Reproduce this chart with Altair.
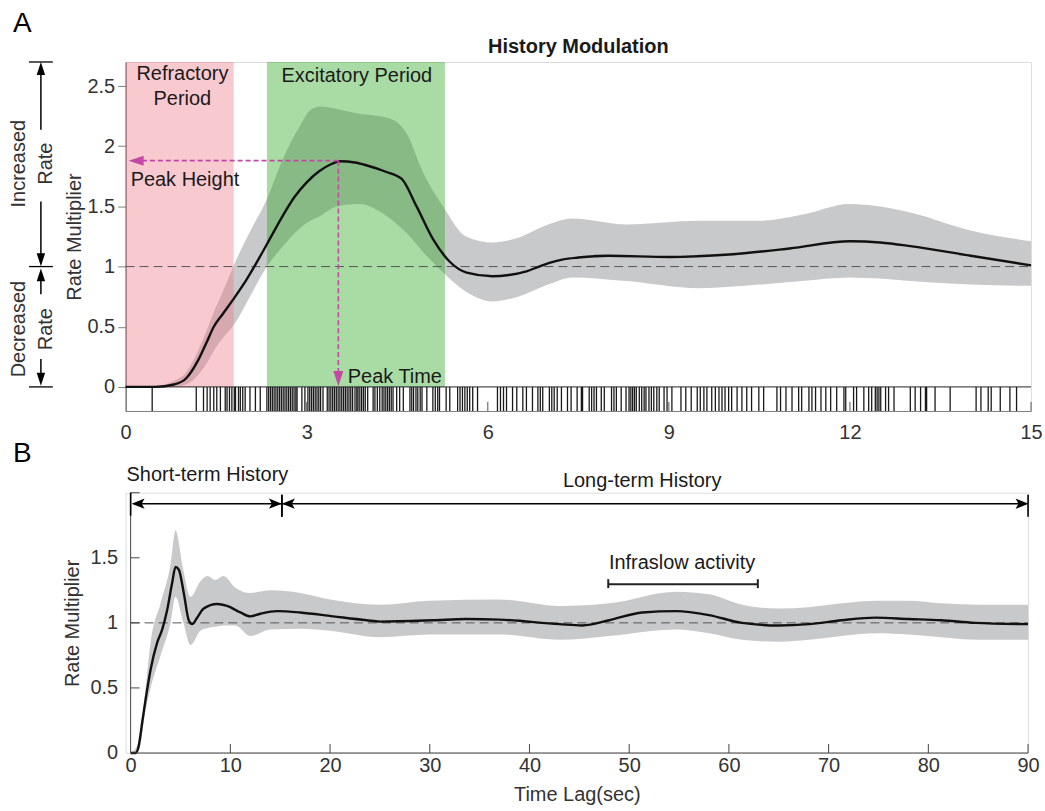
import altair as alt
import pandas as pd

# ---------------- data ----------------
spike_times = [
    0.44, 1.17, 1.29, 1.35, 1.40, 1.46, 1.51, 1.57, 1.65, 1.68, 1.72, 1.76, 1.80, 1.82, 1.87, 1.90,
    1.94, 1.98, 2.06, 2.15, 2.23, 2.34, 2.37, 2.40, 2.43, 2.46, 2.49, 2.52, 2.55, 2.58, 2.61, 2.64,
    2.67, 2.70, 2.73, 2.76, 2.79, 2.82, 2.84, 2.92, 2.97, 3.02, 3.05, 3.08, 3.11, 3.14, 3.17, 3.20,
    3.23, 3.27, 3.34, 3.37, 3.40, 3.43, 3.46, 3.49, 3.52, 3.55, 3.58, 3.61, 3.64, 3.67, 3.70, 3.73,
    3.76, 3.80, 3.83, 3.85, 3.88, 3.91, 3.94, 3.97, 4.01, 4.10, 4.13, 4.17, 4.21, 4.25, 4.28, 4.31,
    4.34, 4.37, 4.40, 4.43, 4.49, 4.54, 4.60, 4.71, 4.74, 4.77, 4.81, 4.84, 4.88, 4.91, 4.99, 5.09,
    5.13, 5.17, 5.20, 5.31, 5.37, 5.50, 5.54, 5.58, 5.62, 5.66, 5.70, 5.75, 5.83, 6.16, 6.21, 6.26,
    6.31, 6.41, 6.48, 6.58, 6.64, 6.74, 6.83, 6.87, 6.91, 7.02, 7.06, 7.10, 7.15, 7.22, 7.32, 7.38,
    7.48, 7.55, 7.57, 7.68, 7.72, 7.76, 7.80, 7.88, 7.93, 8.05, 8.09, 8.13, 8.21, 8.29, 8.34, 8.37,
    8.40, 8.43, 8.46, 8.51, 8.55, 8.59, 8.62, 8.67, 8.71, 8.75, 8.80, 8.84, 8.92, 8.97, 9.05, 9.20,
    9.28, 9.37, 9.47, 9.52, 9.58, 9.63, 9.71, 9.77, 9.83, 9.88, 9.93, 9.99, 10.04, 10.13, 10.21,
    10.29, 10.37, 10.49, 10.57, 10.79, 10.85, 10.94, 11.04, 11.15, 11.20, 11.32, 11.37, 11.43,
    11.52, 11.60, 11.68, 11.78, 11.90, 11.93, 12.06, 12.11, 12.23, 12.31, 12.36, 12.42, 12.45,
    12.48, 12.51, 12.59, 12.64, 12.73, 13.00, 13.08, 13.17, 13.25, 13.27, 13.41, 13.66, 14.09,
    14.17, 14.29, 14.34, 14.49, 14.65, 14.76,
]

tA_mean = [0, 0.5, 0.8, 1.0, 1.2, 1.35, 1.46, 1.6, 1.8, 2.0, 2.2, 2.4, 2.6, 2.8, 3.0, 3.2, 3.4,
           3.55, 3.8, 4.0, 4.3, 4.57, 4.82, 5.09, 5.37, 5.65, 6.08, 6.35, 6.64, 6.85, 7.02, 7.25,
           7.5, 8.0, 9.0, 10.0, 11.0, 12.0, 12.5, 13.0, 14.0, 15.0]
A_mean = [0, 0, 0.02, 0.07, 0.22, 0.38, 0.50, 0.60, 0.74, 0.89, 1.06, 1.24, 1.42, 1.58, 1.70, 1.79,
          1.85, 1.875, 1.865, 1.84, 1.79, 1.73, 1.50, 1.23, 1.04, 0.95, 0.92, 0.93, 0.96, 1.0,
          1.03, 1.06, 1.075, 1.09, 1.08, 1.10, 1.15, 1.21, 1.20, 1.17, 1.09, 1.01]

tA_band = [0, 0.5, 0.8, 1.0, 1.2, 1.35, 1.46, 1.6, 1.8, 2.07, 2.34, 2.61, 2.89, 3.06, 3.22, 3.5,
           3.88, 4.2, 4.43, 4.65, 4.93, 5.26, 5.64, 6.08, 6.5, 7.0, 7.4, 8.3, 9.5, 10.5, 11.2,
           12.0, 12.5, 13.0, 14.0, 15.0]
A_upper = [0, 0.01, 0.05, 0.12, 0.30, 0.48, 0.62, 0.78, 1.02, 1.30, 1.56, 1.90, 2.17, 2.30, 2.33,
           2.31, 2.27, 2.25, 2.22, 2.11, 1.78, 1.50, 1.25, 1.20, 1.24, 1.35, 1.40, 1.35, 1.38, 1.38,
           1.43, 1.52, 1.50, 1.45, 1.30, 1.21]
A_lower = [0, 0, 0, 0.02, 0.10, 0.20, 0.30, 0.40, 0.52, 0.76, 1.00, 1.17, 1.32, 1.38, 1.42, 1.50,
           1.52, 1.46, 1.38, 1.28, 1.12, 0.95, 0.79, 0.71, 0.75, 0.85, 0.91, 0.88, 0.82, 0.85, 0.88,
           0.91, 0.90, 0.88, 0.85, 0.84]

tB_mean = [0, 0.5, 0.8, 1.17, 1.5, 2.0, 2.67, 3.17, 3.67, 4.17, 4.5, 4.83, 5.33, 5.83, 6.17, 6.67,
           7.33, 8.67, 9.67, 11, 12, 13, 14.67, 17, 20.3, 23.67, 25, 30.3, 33.67, 37, 43, 45.3, 48,
           51.3, 54.7, 58, 61.3, 65, 68, 71.3, 74.7, 78, 81.3, 84.7, 90]
B_mean = [0, 0, 0.05, 0.24, 0.41, 0.64, 0.85, 0.95, 1.10, 1.31, 1.43, 1.41, 1.23, 1.02, 0.99, 1.04,
          1.11, 1.145, 1.13, 1.08, 1.05, 1.07, 1.09, 1.08, 1.05, 1.02, 1.01, 1.02, 1.03, 1.025, 0.99,
          0.98, 1.02, 1.08, 1.09, 1.06, 1.0, 0.98, 0.99, 1.02, 1.04, 1.03, 1.02, 1.0, 0.99]

tB_band = [0, 0.8, 1.5, 2.0, 3.0, 4.0, 4.5, 5.3, 6.0, 7.0, 7.7, 8.5, 9.3, 10.5, 12, 14, 17, 20, 25,
           30, 37, 43, 48, 54.7, 58, 61.3, 65, 68, 71.3, 75, 78, 81.3, 85, 90]
B_upper = [0, 0.08, 0.50, 0.85, 1.15, 1.45, 1.71, 1.40, 1.20, 1.32, 1.36, 1.33, 1.36, 1.27, 1.23,
           1.25, 1.23, 1.18, 1.14, 1.17, 1.18, 1.13, 1.15, 1.24, 1.22, 1.14, 1.11, 1.12, 1.15, 1.17,
           1.17, 1.15, 1.14, 1.14]
B_lower = [0, 0.02, 0.33, 0.50, 0.75, 1.0, 1.2, 1.0, 0.83, 0.94, 0.96, 0.97, 0.98, 0.98, 0.90,
           0.95, 0.955, 0.94, 0.89, 0.91, 0.91, 0.87, 0.90, 0.95, 0.92, 0.87, 0.855, 0.87, 0.90,
           0.92, 0.91, 0.89, 0.87, 0.87]

A_xticks = [0, 3, 6, 9, 12, 15]
A_yticks = [0, 0.5, 1, 1.5, 2, 2.5]
B_xticks = [0, 10, 20, 30, 40, 50, 60, 70, 80, 90]
B_yticks = [0, 0.5, 1, 1.5]

# periods (start, end, colour)
period_start = [0, 2.34]
period_end = [1.79, 5.29]
period_color = ["#F07889", "#28A51E"]

# ---------------- styling ----------------
FONT = "Liberation Sans"
LBL = "#333333"
TXT = "#1a1a1a"
MAG = "#C449A5"
BAND = "#c8c9cb"
AXC = "#444444"

# ---------------- Panel A ----------------
xsA = alt.Scale(domain=[0, 15], nice=False, zero=False)
ysA = alt.Scale(domain=[-0.2, 2.7], nice=False, zero=False)
axXA = alt.Axis(title=None, values=A_xticks, ticks=False, domain=True, domainColor="#808080",
                labelPadding=12, labelFontSize=20, labelFont=FONT, labelColor=LBL, grid=False,
                labelFlush=False, labelExpr="datum.value + ''")
axYA = alt.Axis(title="Rate Multiplier", values=A_yticks, ticks=True, tickSize=8, tickColor="#808080",
                domain=True, domainColor=AXC, labelPadding=3, labelFontSize=20, labelFont=FONT,
                labelColor=LBL, grid=False, titleFont=FONT, titleFontSize=20, titleFontWeight="normal",
                titleColor=LBL, titlePadding=2, labelExpr="datum.value + ''")


def XA(f):
    return alt.X(f, type="quantitative", scale=xsA, axis=axXA)


def YA(f):
    return alt.Y(f, type="quantitative", scale=ysA, axis=axYA)


def segA(df, **mk):
    return alt.Chart(df).mark_rule(**mk).encode(x=XA("x"), x2="x2", y=YA("y"), y2="y2")


def ptA(df, shape, size, color):
    return alt.Chart(df).mark_point(shape=shape, size=size, filled=True, color=color, opacity=1,
                                    strokeWidth=0).encode(x=XA("x"), y=YA("y"))


def txtA(df, **mk):
    base = dict(font=FONT, fontSize=20, color=TXT)
    base.update(mk)
    return alt.Chart(df).mark_text(**base).encode(x=XA("x"), y=YA("y"), text="text:N")


bandA = alt.Chart(pd.DataFrame({"t": tA_band, "lo": A_lower, "hi": A_upper})).mark_area(
    color=BAND, interpolate="monotone").encode(x=XA("t"), y=YA("lo"), y2="hi")

regions = alt.Chart(pd.DataFrame({"x": period_start, "x2": period_end, "y": [0, 0], "y2": [2.7, 2.7],
                                  "c": period_color})).mark_rect(opacity=0.4).encode(
    x=XA("x"), x2="x2", y=YA("y"), y2="y2", color=alt.Color("c:N", scale=None))

refA = segA(pd.DataFrame({"x": [0], "x2": [15], "y": [1], "y2": [1]}),
            color="#555555", strokeWidth=1, strokeDash=[9, 5])

rug = alt.Chart(pd.DataFrame({"s": spike_times, "y": -0.2, "y2": 0.0})).mark_rule(
    color="#000000", opacity=0.9, strokeWidth=1.3).encode(x=XA("s"), y=YA("y"), y2="y2")

rugTop = segA(pd.DataFrame({"x": [0], "x2": [15], "y": [0], "y2": [0]}), color="#222222", strokeWidth=1)
xticksA = segA(pd.DataFrame({"x": A_xticks[1:], "x2": A_xticks[1:], "y": -0.2, "y2": -0.125}),
               color="#555555", strokeWidth=1)

lineA = alt.Chart(pd.DataFrame({"t": tA_mean, "m": A_mean})).mark_line(
    color="#111111", strokeWidth=2.4, interpolate="monotone").encode(x=XA("t"), y=YA("m"))

peakT, peakV = 3.524, 1.88
magLines = segA(pd.DataFrame({"x": [peakT, peakT], "x2": [0.2, peakT], "y": [peakV, peakV],
                              "y2": [peakV, 0.12]}), color=MAG, strokeWidth=1.6, strokeDash=[5, 3])
magLeft = ptA(pd.DataFrame({"x": [0.174], "y": [peakV]}), "M-1,0L1,-0.67L1,0.67Z", 225, MAG)
magDown = ptA(pd.DataFrame({"x": [peakT], "y": [0.07]}), "M0,1L-0.67,-1L0.67,-1Z", 225, MAG)

texts_center = txtA(pd.DataFrame({"x": [0.94, 0.94, 3.83], "y": [2.551, 2.344, 2.537],
                                  "text": ["Refractory", "Period", "Excitatory Period"]}),
                    align="center", baseline="alphabetic")
texts_left = txtA(pd.DataFrame({"x": [0.083, 3.68], "y": [1.67, 0.032],
                                "text": ["Peak Height", "Peak Time"]}), align="left", baseline="alphabetic")
titleA = txtA(pd.DataFrame({"x": [7.5], "y": [2.775], "text": ["History Modulation"]}),
              align="center", baseline="alphabetic", fontWeight="bold")
letterA = txtA(pd.DataFrame({"x": [-1.865], "y": [2.95], "text": ["A"]}),
               align="left", baseline="alphabetic", fontSize=28, color="#000000")
rotTexts = txtA(pd.DataFrame({"x": [-1.768, -1.313, -1.768, -1.313], "y": [1.855, 1.855, 0.48, 0.48],
                              "text": ["Increased", "Rate", "Decreased", "Rate"]}),
                align="center", baseline="middle", angle=270, color="#333333")
sideH = segA(pd.DataFrame({"x": [-1.602] * 3, "x2": [-1.206] * 3, "y": [2.70, 1.0, 0.0],
                           "y2": [2.70, 1.0, 0.0]}), color="#000000", strokeWidth=1.3)
sideV = segA(pd.DataFrame({"x": [-1.404] * 4, "x2": [-1.404] * 4, "y": [2.137, 1.540, 0.770, 0.231],
                           "y2": [2.65, 1.06, 0.93, 0.06]}), color="#000000", strokeWidth=1.5)
sideUp = ptA(pd.DataFrame({"x": [-1.404, -1.404], "y": [2.646, 0.931]}), "M0,-1L-0.65,1L0.65,1Z", 169, "#000000")
sideDown = ptA(pd.DataFrame({"x": [-1.404, -1.404], "y": [1.056, 0.064]}), "M0,1L-0.65,-1L0.65,-1Z", 169, "#000000")

panelA = alt.layer(bandA, regions, refA, rug, rugTop, xticksA, lineA, magLines, magLeft, magDown,
                   texts_center, texts_left, titleA, letterA, rotTexts, sideH, sideV, sideUp,
                   sideDown).properties(width=908, height=350)

# ---------------- Panel B ----------------
xsB = alt.Scale(domain=[-0.5, 90], nice=False, zero=False)
ysB = alt.Scale(domain=[0, 2], nice=False, zero=False)
axXB = alt.Axis(title="Time Lag(sec)", values=B_xticks, ticks=False, domain=False, labelPadding=3,
                labelFontSize=20, labelFont=FONT, labelColor=LBL, grid=False, labelFlush=False,
                titleFont=FONT, titleFontSize=20, titleFontWeight="normal", titleColor=LBL,
                titlePadding=9, labelExpr="datum.value + ''")
axYB = alt.Axis(title="Rate Multiplier", values=B_yticks, ticks=False, domain=False, labelPadding=8,
                labelFontSize=20, labelFont=FONT, labelColor=LBL, grid=False, titleFont=FONT,
                titleFontSize=20, titleFontWeight="normal", titleColor=LBL, titlePadding=7,
                labelExpr="datum.value + ''")


def XB(f):
    return alt.X(f, type="quantitative", scale=xsB, axis=axXB)


def YB(f):
    return alt.Y(f, type="quantitative", scale=ysB, axis=axYB)


def segB(df, **mk):
    return alt.Chart(df).mark_rule(**mk).encode(x=XB("x"), x2="x2", y=YB("y"), y2="y2")


def ptB(df, shape, size, color):
    return alt.Chart(df).mark_point(shape=shape, size=size, filled=True, color=color, opacity=1,
                                    strokeWidth=0).encode(x=XB("x"), y=YB("y"))


def txtB(df, **mk):
    base = dict(font=FONT, fontSize=20, color=TXT)
    base.update(mk)
    return alt.Chart(df).mark_text(**base).encode(x=XB("x"), y=YB("y"), text="text:N")


bandB = alt.Chart(pd.DataFrame({"t": tB_band, "lo": B_lower, "hi": B_upper})).mark_area(
    color=BAND, interpolate="monotone").encode(x=XB("t"), y=YB("lo"), y2="hi")
refB = segB(pd.DataFrame({"x": [0], "x2": [90], "y": [1], "y2": [1]}),
            color="#555555", strokeWidth=1, strokeDash=[9, 5])
axesB = segB(pd.DataFrame({"x": [0, 0], "x2": [90, 0], "y": [0, 0], "y2": [0, 2]}),
             color=AXC, strokeWidth=1)
xticksB = segB(pd.DataFrame({"x": B_xticks[1:], "x2": B_xticks[1:], "y": 0.0, "y2": 0.069}),
               color=AXC, strokeWidth=1)
yticksB = segB(pd.DataFrame({"x": 0.0, "x2": 0.9, "y": B_yticks[1:] + [2], "y2": B_yticks[1:] + [2]}),
               color=AXC, strokeWidth=1)
lineB = alt.Chart(pd.DataFrame({"t": tB_mean, "m": B_mean})).mark_line(
    color="#111111", strokeWidth=2.4, interpolate="monotone").encode(x=XB("t"), y=YB("m"))

arrV = 1.916
histLines = segB(pd.DataFrame({"x": [0.3, 15.17, 15.17, 90, 0], "x2": [89.8, 15.17, 15.17, 90, 0],
                               "y": [arrV, 1.816, 1.816, 1.816, 1.824],
                               "y2": [arrV, 1.985, 1.985, 1.985, 2.0]}),
                 color="#000000", strokeWidth=1.6)
headsL = ptB(pd.DataFrame({"x": [0.75, 15.82], "y": [arrV, arrV]}), "M-1,0L1,-0.8L0.55,0L1,0.8Z", 169, "#000000")
headsR = ptB(pd.DataFrame({"x": [14.52, 89.4], "y": [arrV, arrV]}), "M1,0L-1,-0.8L-0.55,0L-1,0.8Z", 169, "#000000")
histText = txtB(pd.DataFrame({"x": [7.7, 51.3, 55.3], "y": [2.087, 2.041, 1.415],
                              "text": ["Short-term History", "Long-term History", "Infraslow activity"]}),
                align="center", baseline="alphabetic")
infraBar = segB(pd.DataFrame({"x": [47.9, 47.9, 62.9], "x2": [62.9, 47.9, 62.9], "y": [1.297, 1.267, 1.267],
                              "y2": [1.297, 1.336, 1.336]}), color="#222222", strokeWidth=2)
letterB = txtB(pd.DataFrame({"x": [-11.8], "y": [2.236], "text": ["B"]}),
               align="left", baseline="alphabetic", fontSize=28, color="#000000")

panelB = alt.layer(bandB, refB, lineB, axesB, xticksB, yticksB, histLines, headsL, headsR, histText,
                   infraBar, letterB).properties(width=905, height=261)

chart = alt.vconcat(panelA, panelB, spacing=82, bounds="flush").properties(
    padding={"left": 8, "top": 8, "right": 2, "bottom": 2}
).configure_view(stroke=None).configure(font=FONT)

chart.save("out.html", embed_options={"renderer": "svg", "actions": False})
